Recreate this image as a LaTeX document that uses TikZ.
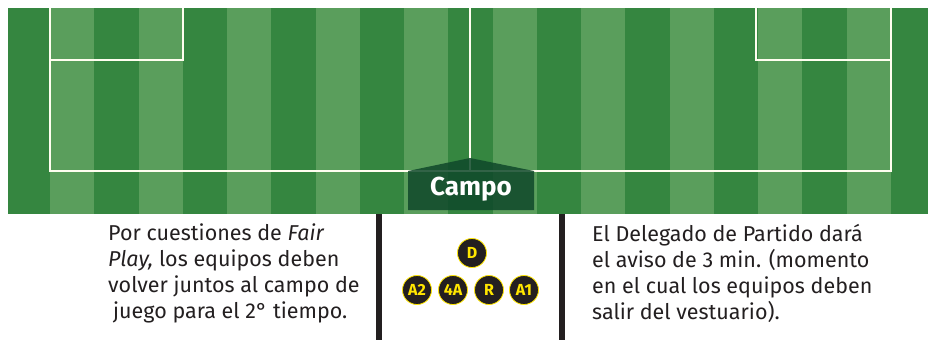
\documentclass[tikz,border=0pt]{standalone}
\usepackage{fontspec}
\setmainfont{Fira Sans}
\definecolor{grassdark}{RGB}{53,134,64}
\definecolor{grasslight}{RGB}{90,158,92}
\definecolor{campo}{RGB}{15,72,42}
\definecolor{barblack}{RGB}{35,31,32}
\definecolor{tokyellow}{RGB}{255,230,0}
\tikzset{
        chalk/.style={draw=white!94!yellow, line width=2pt},
        player/.style={circle, fill=barblack, draw=tokyellow, line width=0.8pt, minimum size=29pt, inner sep=0pt, text=tokyellow, font=\fontsize{16}{16}\selectfont\bfseries},
        note/.style={align=left, anchor=north west, inner sep=0pt, text=barblack, font=\fontsize{21.5}{26}\selectfont}
}

\begin{document}
\begin{tikzpicture}[x=1pt, y=-1pt]
        \useasboundingbox (0,0) rectangle (928,340);
        \fill[grassdark] (8,8) rectangle (928,214);
        \foreach \i in {0,2,...,18}
                \fill[grasslight] ({50+\i*44.26},8) rectangle ({50+(\i+1)*44.26},214);
        \draw[chalk] (50,8) -- (50,171) -- (891,171) -- (891,8);
        \draw[chalk] (50,60) -- (183,60) -- (183,8);
        \draw[chalk] (891,60) -- (756,60) -- (756,8);
        \draw[chalk] (470,8) -- (470,171);
        \fill[campo, opacity=.85] (408,210) -- (408,171) -- (470,158) -- (534,171) -- (534,210) -- cycle;
        \node (campo) [text=white, font=\fontsize{26}{26}\selectfont\bfseries] at (471,189) {Campo};
        \fill[barblack] (376,214) rectangle (382,340);
        \fill[barblack] (559,214) rectangle (565,340);
        \node (d) [player] at (472,253) {D};
        \node (a2) [player] at (417,290) {A2};
        \node (4a) [player] at (453,290) {4A};
        \node (r) [player] at (489,290) {R};
        \node (a1) [player] at (524,290) {A1};
        \node (fairplay) [note] at (108,224) {Por cuestiones de \textit{Fair}\\ \textit{Play,} los equipos deben\\ volver juntos al campo de\\ \hspace{5pt}juego para el 2° tiempo.};
        \node (aviso) [note] at (592,224) {El Delegado de Partido dará\\ el aviso de 3 min. (momento\\ en el cual los equipos deben\\ salir del vestuario).};
\end{tikzpicture}
\end{document}
